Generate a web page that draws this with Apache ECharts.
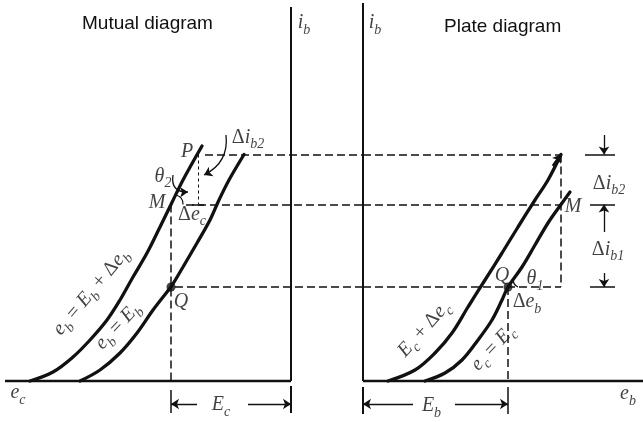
<!DOCTYPE html>
<html>
<head>
<meta charset="utf-8">
<script src="https://cdn.jsdelivr.net/npm/echarts/dist/echarts.min.js"></script>
<style>
  html, body { margin: 0; padding: 0; background: #fff; }
  #chart { width: 643px; height: 422px; }
</style>
</head>
<body>
<div id="chart"></div>
<script>
// Operating point Q and the points M, P (i_b in mA, e_c and e_b in volts)
const Ec = -6.0;      // grid bias at Q
const Eb = 145;       // plate voltage at Q
const ebM = 198;      // plate voltage at M  (E_b + Δe_b)
const ecP = -4.65;    // grid voltage at P   (E_c + Δe_c)
const iQ = 9.4;
const iM = 17.65;
const iP = 22.65;

// Mutual characteristics: i_b against e_c
const mutualHigh = [[-13.05, 0], [-11.9, 0.9], [-10.9, 2.4], [-10.05, 4.1], [-9.2, 6.1],
  [-8.55, 8.1], [-7.9, 10.4], [-7.2, 12.8], [-6.55, 15.4], [Ec, iM], [-5.4, 20.1], [-4.45, 23.5]];   // e_b = E_b + Δe_b
const mutualLow = [[-10.55, 0], [-9.55, 1.1], [-8.55, 2.8], [-7.7, 4.8], [-6.9, 7.1],
  [-6.2, 8.9], [Ec, iQ], [-5.4, 11.4], [-4.7, 13.8], [-4.05, 16.1], [-3.6, 18.1], [-3.1, 20.1], [-2.35, iP]];  // e_b = E_b

// Plate characteristics: i_b against e_b
const plateHigh = [[25, 0], [52, 1.1], [72, 2.8], [89, 4.8], [105, 7.4], [122, 10.1],
  [139, 12.8], [155, 15.4], [172, 18.1], [185, 20.1], [ebM, iP]];   // e_c = E_c + Δe_c
const plateLow = [[62, 0], [82, 0.8], [99, 2.1], [115, 4.1], [129, 6.1], [139, 8.1],
  [Eb, iQ], [159, 11.4], [172, 13.6], [185, 15.8], [ebM, iM], [207, 18.9]];  // e_c = E_c

const INK = '#111111';
const SERIF = 'Liberation Serif';

// rich-text styles for the symbols: italic letters, upright signs, lowered subscripts
const rich = {
  i: { fontFamily: SERIF, fontStyle: 'italic', fontSize: 20, lineHeight: 28, color: INK },
  u: { fontFamily: SERIF, fontSize: 20, lineHeight: 28, color: INK },
  s: { fontFamily: SERIF, fontStyle: 'italic', fontSize: 14, lineHeight: 28, verticalAlign: 'bottom', color: INK }
};

function segments(grid, list, style, arrow) {
  return {
    type: 'lines', coordinateSystem: 'cartesian2d', xAxisIndex: grid, yAxisIndex: grid,
    polyline: false, silent: true, animation: false, z: 3,
    symbol: arrow ? ['none', 'arrow'] : 'none', symbolSize: arrow ? 8 : 0,
    lineStyle: Object.assign({ color: INK, opacity: 1, width: 1.5, curveness: 0 }, style),
    data: list.map(c => ({ coords: c }))
  };
}

function curve(grid, pts) {
  return {
    type: 'line', xAxisIndex: grid, yAxisIndex: grid, data: pts, smooth: 0.35,
    showSymbol: false, silent: true, animation: false, z: 4,
    lineStyle: { color: INK, width: 3.3, cap: 'round' }
  };
}

// a label's offset is applied in its own rotated frame; turn a screen shift into that frame
function shift(dx, dy, deg) {
  const a = (deg || 0) * Math.PI / 180, c = Math.cos(a), s = Math.sin(a);
  return [dx * c - dy * s, dx * s + dy * c];
}

function notes(grid, list) {
  return {
    type: 'scatter', xAxisIndex: grid, yAxisIndex: grid, symbolSize: 0, silent: true,
    animation: false, z: 6,
    data: list.map(n => ({
      value: n.at,
      label: {
        show: true, position: 'inside', align: 'center', verticalAlign: 'middle',
        formatter: n.text, rich: rich, rotate: n.rotate || 0,
        offset: shift((n.offset || [0, 0])[0], (n.offset || [0, 0])[1], n.rotate)
      }
    }))
  };
}

const dash = { type: [8, 4], width: 1.5 };
const dimRow = -2.3;   // level of the E_c / E_b dimension arrows
const dimX = 241;      // plate-side Δi_b dimension line

const series = [
  // ---------- mutual diagram ----------
  segments(0, [[[0, 37.4], [0, 0]], [[0, -0.5], [0, -3.2]]], { width: 2 }),
  segments(0, [[[-14.3, 0], [0, 0]]], { width: 2.4 }),
  segments(0, [[[Ec, -0.9], [Ec, -3.2]], [[ecP - 0.3, iM], [ecP + 0.3, iM]]], { width: 1.5 }),
  segments(0, [[[Ec, iM], [Ec, 0]], [[ecP + 0.35, iP], [3.6, iP]], [[Ec + 0.75, iM], [3.6, iM]], [[Ec + 0.2, iQ], [3.6, iQ]]], dash),
  segments(0, [[[ecP, iP], [ecP, iM]]], { type: [3, 3], width: 1 }),
  segments(0, [[[-4.7, dimRow], [Ec, dimRow]], [[-2.15, dimRow], [0, dimRow]]], { width: 1.3 }, true),
  segments(0, [[[-5.9, 20.6], [-5.15, 18.9]]], { width: 1.3, curveness: -0.6 }, true),
  segments(0, [[[-3.25, 24.6], [-4.35, 20.6]]], { width: 1.3, curveness: 0.35 }, true),
  segments(0, [[[-5.4, iM], [-5.75, 18.6]]], { width: 1.2, curveness: -0.4 }),
  curve(0, mutualHigh),
  curve(0, mutualLow),
  {
    type: 'scatter', xAxisIndex: 0, yAxisIndex: 0, data: [[Ec, iQ]], symbolSize: 9,
    itemStyle: { color: INK }, silent: true, animation: false, z: 5
  },
  notes(0, [
    { at: [0, 37.4], text: '{i|i}{s|b}', offset: [13, 16] },
    { at: [-14.3, 0], text: '{i|e}{s|c}', offset: [13, 12] },
    { at: [ecP, iP], text: '{i|P}', offset: [-11, -3] },
    { at: [Ec, iM], text: '{i|θ}{s|2}', offset: [-8, -28] },
    { at: [Ec, iM], text: '{i|M}', offset: [-14, -2] },
    { at: [Ec, iM], text: '{u|Δ}{i|e}{s|c}', offset: [21, 10] },
    { at: [ecP, iP], text: '{u|Δ}{i|i}{s|b2}', offset: [50, -17] },
    { at: [Ec, iQ], text: '{i|Q}', offset: [10, 15] },
    { at: [Ec / 2, dimRow], text: '{i|E}{s|c}', offset: [-10, 1] },
    { at: mutualHigh[5], text: '{i|e}{s|b}{u| = }{i|E}{s|b}{u| + Δ}{i|e}{s|b}', offset: [-29, -8], rotate: 50 },
    { at: mutualLow[3], text: '{i|e}{s|b}{u| = }{i|E}{s|b}', offset: [-19, -7], rotate: 47 }
  ]),

  // ---------- plate diagram ----------
  segments(1, [[[0, 37.8], [0, 0]], [[0, -0.6], [0, -3.3]]], { width: 2 }),
  segments(1, [[[0, 0], [280, 0]]], { width: 2.4 }),
  segments(1, [[[Eb, -0.6], [Eb, -3.3]], [[222, iP], [252, iP]], [[227, iM], [252, iM]], [[227, iQ], [252, iQ]]], { width: 1.5 }),
  segments(1, [[[0, iP], [ebM, iP]], [[0, iM], [ebM, iM]], [[0, iQ], [ebM, iQ]], [[ebM, iP], [ebM, iQ]], [[Eb, iQ], [Eb, 0]]], dash),
  segments(1, [[[dimX, 24.6], [dimX, iP]], [[dimX, 14.9], [dimX, iM]], [[dimX, 10.8], [dimX, iQ]],
    [[50, dimRow], [0, dimRow]], [[92, dimRow], [Eb, dimRow]]], { width: 1.3 }, true),
  segments(1, [[[190, 21.5], [ebM, iP]]], { width: 3 }, true),
  segments(1, [[[155, iQ], [150.5, 10.25]]], { width: 1.2, curveness: 0.4 }),
  curve(1, plateHigh),
  curve(1, plateLow),
  {
    type: 'scatter', xAxisIndex: 1, yAxisIndex: 1, data: [[Eb, iQ]], symbolSize: 9,
    itemStyle: { color: INK }, silent: true, animation: false, z: 5
  },
  notes(1, [
    { at: [0, 37.8], text: '{i|i}{s|b}', offset: [12, 20] },
    { at: [280, 0], text: '{i|e}{s|b}', offset: [-15, 13] },
    { at: [ebM, iM], text: '{i|M}', offset: [12, 2] },
    { at: [dimX, (iP + iM) / 2], text: '{u|Δ}{i|i}{s|b2}', offset: [5, 4] },
    { at: [dimX, (iM + iQ) / 2], text: '{u|Δ}{i|i}{s|b1}', offset: [4, 4] },
    { at: [Eb, iQ], text: '{i|Q}', offset: [-6, -11] },
    { at: [Eb, iQ], text: '{i|θ}{s|1}', offset: [27, -8] },
    { at: [Eb, iQ], text: '{u|Δ}{i|e}{s|b}', offset: [19, 15] },
    { at: [Eb / 2, dimRow], text: '{i|E}{s|b}', offset: [-4, 2] },
    { at: plateHigh[3], text: '{i|E}{s|c}{u| + Δ}{i|e}{s|c}', offset: [-28, -4], rotate: 48 },
    { at: plateLow[3], text: '{i|e}{s|c}{u| = }{i|E}{s|c}', offset: [15, 8], rotate: 47 }
  ])
];

const chart = echarts.init(document.getElementById('chart'), null, { renderer: 'canvas' });
chart.setOption({
  backgroundColor: '#ffffff',
  animation: false,
  title: [
    { text: 'Mutual diagram', left: 77, top: 9, textStyle: { fontFamily: 'Liberation Sans', fontSize: 19, fontWeight: 'normal', color: INK } },
    { text: 'Plate diagram', left: 439, top: 12, textStyle: { fontFamily: 'Liberation Sans', fontSize: 19, fontWeight: 'normal', color: INK } }
  ],
  grid: [
    { left: 0, top: 1, width: 363, height: 420 },
    { left: 363, top: 1, width: 280, height: 420 }
  ],
  xAxis: [
    { type: 'value', gridIndex: 0, min: -14.55, max: 3.6, show: false },
    { type: 'value', gridIndex: 1, min: 0, max: 280, show: false }
  ],
  yAxis: [
    { type: 'value', gridIndex: 0, min: -4, max: 38, show: false },
    { type: 'value', gridIndex: 1, min: -4, max: 38, show: false }
  ],
  series: series
});
</script>
</body>
</html>
